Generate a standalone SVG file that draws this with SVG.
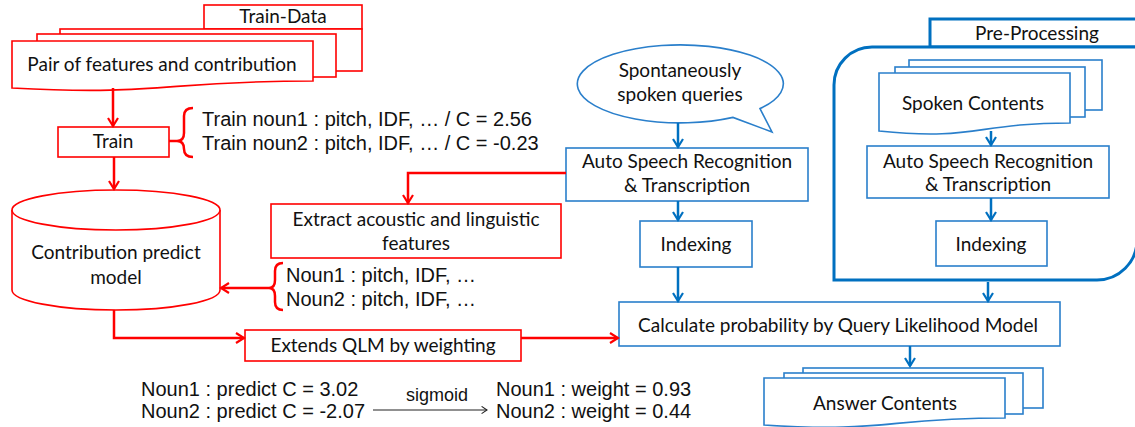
<svg xmlns="http://www.w3.org/2000/svg" width="1135" height="427" viewBox="0 0 1135 427">
<style>
.r{fill:#fff;stroke:#ff0000;stroke-width:1.6}
.b{fill:#fff;stroke:#2a7fcb;stroke-width:1.6}
.pb{fill:#fff;stroke:#0070c0;stroke-width:3}
.cal{font-family:Lato,"Liberation Sans",sans-serif;font-size:19px;fill:#111;text-anchor:middle}
.ar{font-family:"Liberation Sans",Arial,sans-serif;font-size:20px;fill:#111}
.rl{fill:none;stroke:#ff0000;stroke-width:2.5}
.bl{fill:none;stroke:#0070c0;stroke-width:2.5}
.kl{fill:none;stroke:#222;stroke-width:1.2}
</style>
<defs>
<marker id="mr" viewBox="0 0 12 12" refX="10" refY="6" markerWidth="12" markerHeight="12" markerUnits="userSpaceOnUse" orient="auto"><path d="M2,1 L10,6 L2,11" fill="none" stroke="#ff0000" stroke-width="2.2"/></marker>
<marker id="mb" viewBox="0 0 12 12" refX="10" refY="6" markerWidth="12" markerHeight="12" markerUnits="userSpaceOnUse" orient="auto"><path d="M2,1 L10,6 L2,11" fill="none" stroke="#0070c0" stroke-width="2.2"/></marker>
<marker id="mk" viewBox="0 0 10 10" refX="9" refY="5" markerWidth="9" markerHeight="9" markerUnits="userSpaceOnUse" orient="auto"><path d="M3,1 L9,5 L3,9" fill="none" stroke="#222" stroke-width="1.2"/></marker>
</defs>

<g id="train-data">
<rect class="r" x="204" y="5" width="158" height="24"/>
<text class="cal" x="283" y="23">Train-Data</text>
</g>

<g id="pair-features">
<rect class="r" x="60" y="29" width="302" height="42"/>
<rect class="r" x="37" y="34" width="299" height="43"/>
<path class="r" d="M12,41 H313 V81 C162,81 162,96 12,88 Z"/>
<text class="cal" x="162" y="71">Pair of features and contribution</text>
</g>

<g id="train">
<rect class="r" x="58" y="127" width="111" height="30"/>
<text class="cal" x="113" y="148">Train</text>
</g>

<g id="train-examples">
<text class="ar" x="202" y="126">Train noun1 : pitch, IDF, … / C = 2.56</text>
<text class="ar" x="202" y="150">Train noun2 : pitch, IDF, … / C = -0.23</text>
</g>

<g id="predict-model">
<path class="r" d="M12,210 V290 A104,20 0 0 0 220,290 V210"/>
<ellipse class="r" cx="116" cy="210" rx="104" ry="20"/>
<text class="cal" x="116" y="259">Contribution predict</text>
<text class="cal" x="116" y="284">model</text>
</g>

<g id="extract">
<rect class="r" x="271" y="204" width="290" height="54"/>
<text class="cal" x="416" y="226">Extract acoustic and linguistic</text>
<text class="cal" x="416" y="250">features</text>
</g>

<g id="noun-features">
<text class="ar" x="286" y="282">Noun1 : pitch, IDF, …</text>
<text class="ar" x="286" y="306">Noun2 : pitch, IDF, …</text>
</g>

<g id="extends">
<rect class="r" x="245" y="330" width="276" height="31"/>
<text class="cal" x="383" y="352">Extends QLM by weighting</text>
</g>

<g id="sigmoid-example">
<text class="ar" x="141" y="396">Noun1 : predict C = 3.02</text>
<text class="ar" x="141" y="418">Noun2 : predict C = -2.07</text>
<text class="ar" x="437" y="401" text-anchor="middle" style="font-size:18px">sigmoid</text>
<text class="ar" x="496" y="396">Noun1 : weight = 0.93</text>
<text class="ar" x="496" y="418">Noun2 : weight = 0.44</text>
</g>

<g id="queries">
<path class="b" d="M733,117.4 A103,39 0 1 1 760,108.6 L772,132 Z"/>
<text class="cal" x="680" y="77">Spontaneously</text>
<text class="cal" x="680" y="101">spoken queries</text>
</g>

<g id="asr-query">
<rect class="b" x="566" y="148" width="242" height="53"/>
<text class="cal" x="687" y="168">Auto Speech Recognition</text>
<text class="cal" x="687" y="192">&amp; Transcription</text>
</g>

<g id="indexing-query">
<rect class="b" x="640" y="221" width="112" height="46"/>
<text class="cal" x="696" y="251">Indexing</text>
</g>

<g id="pre-processing">
<rect class="pb" x="930" y="19" width="210" height="28"/>
<text class="cal" x="1037" y="40">Pre-Processing</text>
<path class="pb" d="M834,280 V85 A38,38 0 0 1 872,47 H1137 V240 A40,40 0 0 1 1097,280 Z"/>
</g>

<g id="spoken-contents">
<rect class="b" x="909" y="60" width="193" height="50"/>
<rect class="b" x="895" y="67" width="190" height="50"/>
<path class="b" d="M879,73 H1070 V123 C975,123 975,141 879,131 Z"/>
<text class="cal" x="973" y="110">Spoken Contents</text>
</g>

<g id="asr-contents">
<rect class="b" x="867" y="146" width="242" height="52"/>
<text class="cal" x="988" y="168">Auto Speech Recognition</text>
<text class="cal" x="988" y="191">&amp; Transcription</text>
</g>

<g id="indexing-contents">
<rect class="b" x="936" y="221" width="111" height="45"/>
<text class="cal" x="991" y="251">Indexing</text>
</g>

<g id="qlm">
<rect class="b" x="619" y="302" width="441" height="44"/>
<text class="cal" x="838" y="332">Calculate probability by Query Likelihood Model</text>
</g>

<g id="answer-contents">
<rect class="b" x="803" y="368" width="240" height="40"/>
<rect class="b" x="784" y="373" width="239" height="41"/>
<path class="b" d="M764,378 H1005 V418 C885,418 885,433 764,425 Z"/>
<text class="cal" x="885" y="410">Answer Contents</text>
</g>

<g id="connectors">
<path class="rl" d="M113,88 V126" marker-end="url(#mr)"/>
<path class="rl" d="M114,157 V189" marker-end="url(#mr)"/>
<path class="rl" d="M169,141 H177"/>
<path class="rl" d="M193,108 Q184,108 184,116 V133 Q184,141 177,141 Q184,141 184,149 Q184,157 193,157"/>
<path class="rl" d="M566,173 H408 V203" marker-end="url(#mr)"/>
<path class="rl" d="M283,263 Q275,263 275,271 V280 Q275,288 269,288 Q275,288 275,296 V302 Q275,310 283,310"/>
<path class="rl" d="M269,288 H221" marker-end="url(#mr)"/>
<path class="rl" d="M114,310 V338 H244" marker-end="url(#mr)"/>
<path class="rl" d="M521,338 H618" marker-end="url(#mr)"/>
<path class="bl" d="M678,123 V147" marker-end="url(#mb)"/>
<path class="bl" d="M678,201 V220" marker-end="url(#mb)"/>
<path class="bl" d="M678,267 V301" marker-end="url(#mb)"/>
<path class="bl" d="M991,131 V145" marker-end="url(#mb)"/>
<path class="bl" d="M991,198 V220" marker-end="url(#mb)"/>
<path class="bl" d="M988,282 V301" marker-end="url(#mb)"/>
<path class="bl" d="M910,346 V366" marker-end="url(#mb)"/>
<path class="kl" d="M373,410 H487" marker-end="url(#mk)"/>
</g>
</svg>
